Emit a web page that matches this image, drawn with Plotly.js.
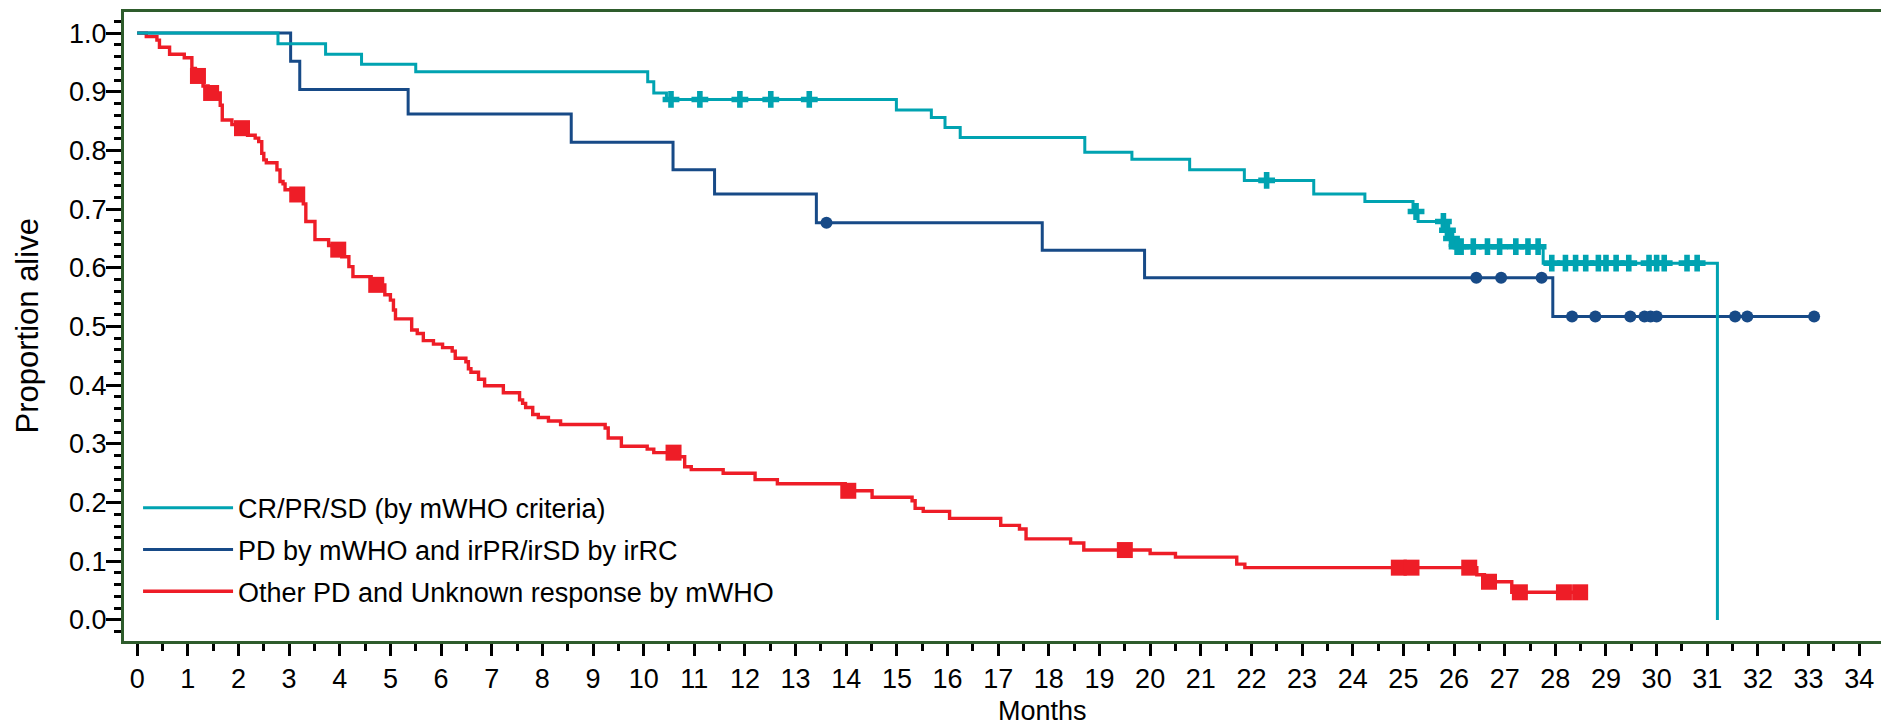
<!DOCTYPE html>
<html><head><meta charset="utf-8">
<script src="https://cdn.plot.ly/plotly-3.0.1.min.js"></script>
<style>html,body{margin:0;padding:0;background:#fff;}#chart{width:1881px;height:728px;}</style>
</head><body><div id="chart"></div>
<script>
// ---- Data (months, proportion alive) ----
const seriesNames = ["CR/PR/SD (by mWHO criteria)", "PD by mWHO and irPR/irSD by irRC", "Other PD and Unknown response by mWHO"];

const cyanStepTimes = [0, 2.78, 3.72, 4.43, 5.50, 10.08, 10.20, 10.45, 14.99, 15.68, 15.95, 16.25, 18.71, 19.64, 20.78, 21.86, 23.23, 24.24, 25.19, 25.29, 25.83, 25.91, 26.00, 27.76, 31.20];
const cyanStepSurv  = [1.0, 0.982, 0.964, 0.947, 0.934, 0.917, 0.898, 0.887, 0.869, 0.856, 0.839, 0.822, 0.797, 0.785, 0.767, 0.749, 0.726, 0.713, 0.696, 0.679, 0.664, 0.650, 0.636, 0.608, 0.0];
const cyanCensorTimes = [10.54, 11.11, 11.90, 12.51, 13.27, 22.30, 25.25, 25.79, 25.87, 25.95, 26.06, 26.14, 26.38, 26.66, 26.90, 27.22, 27.46, 27.66, 27.93, 28.20, 28.40, 28.60, 28.85, 29.00, 29.20, 29.45, 29.85, 30.00, 30.15, 30.60, 30.80];
const cyanCensorSurv  = [0.887, 0.887, 0.887, 0.887, 0.887, 0.749, 0.696, 0.679, 0.664, 0.650, 0.636, 0.636, 0.636, 0.636, 0.636, 0.636, 0.636, 0.636, 0.608, 0.608, 0.608, 0.608, 0.608, 0.608, 0.608, 0.608, 0.608, 0.608, 0.608, 0.608, 0.608];

const navyStepTimes = [0, 3.03, 3.21, 5.35, 8.57, 10.58, 11.40, 13.41, 17.87, 19.89, 27.95, 33.11];
const navyStepSurv  = [1.0, 0.952, 0.904, 0.862, 0.814, 0.767, 0.726, 0.677, 0.630, 0.583, 0.517, 0.517];
const navyCensorTimes = [13.61, 26.44, 26.93, 27.73, 28.33, 28.79, 29.48, 29.76, 29.88, 30.00, 31.55, 31.79, 33.11];
const navyCensorSurv  = [0.677, 0.583, 0.583, 0.583, 0.517, 0.517, 0.517, 0.517, 0.517, 0.517, 0.517, 0.517, 0.517];

const redStepTimes = [0, 0.18, 0.39, 0.44, 0.64, 0.93, 1.08, 1.15, 1.30, 1.40, 1.64, 1.68, 1.87, 1.98, 2.18, 2.33, 2.40, 2.46, 2.50, 2.55, 2.76, 2.82, 2.88, 2.92, 3.05, 3.28, 3.33, 3.51, 3.78, 3.90, 4.04, 4.18, 4.26, 4.62, 4.89, 5.00, 5.06, 5.10, 5.42, 5.53, 5.65, 5.85, 6.03, 6.22, 6.28, 6.49, 6.54, 6.59, 6.74, 6.86, 7.23, 7.55, 7.61, 7.67, 7.81, 7.92, 8.12, 8.36, 9.24, 9.30, 9.56, 10.07, 10.20, 10.65, 10.81, 10.94, 11.57, 12.20, 12.64, 13.98, 14.51, 15.30, 15.36, 15.52, 16.04, 17.05, 17.42, 17.55, 18.43, 18.69, 20.00, 20.50, 21.71, 21.87, 26.45, 26.60, 27.14, 28.49];
const redStepSurv  = [1.0, 0.994, 0.988, 0.976, 0.964, 0.958, 0.940, 0.927, 0.910, 0.898, 0.877, 0.852, 0.844, 0.838, 0.826, 0.821, 0.815, 0.795, 0.784, 0.779, 0.767, 0.747, 0.743, 0.733, 0.725, 0.709, 0.679, 0.648, 0.638, 0.631, 0.619, 0.602, 0.585, 0.571, 0.554, 0.545, 0.528, 0.513, 0.494, 0.488, 0.476, 0.470, 0.464, 0.458, 0.446, 0.440, 0.428, 0.422, 0.410, 0.399, 0.387, 0.375, 0.369, 0.362, 0.350, 0.345, 0.339, 0.333, 0.327, 0.310, 0.296, 0.291, 0.285, 0.278, 0.261, 0.256, 0.250, 0.239, 0.232, 0.220, 0.209, 0.203, 0.190, 0.185, 0.173, 0.161, 0.155, 0.138, 0.131, 0.119, 0.113, 0.107, 0.095, 0.089, 0.077, 0.065, 0.047, 0.047];
const redCensorTimes = [1.20, 1.46, 2.07, 3.16, 3.97, 4.72, 10.59, 14.04, 19.50, 24.91, 25.16, 26.30, 26.69, 27.30, 28.17, 28.49];
const redCensorSurv  = [0.927, 0.898, 0.838, 0.725, 0.631, 0.571, 0.285, 0.220, 0.119, 0.089, 0.089, 0.089, 0.065, 0.047, 0.047, 0.047];

const yTickVals = [0, 0.1, 0.2, 0.3, 0.4, 0.5, 0.6, 0.7, 0.8, 0.9, 1.0];
const yTickText = ["0.0", "0.1", "0.2", "0.3", "0.4", "0.5", "0.6", "0.7", "0.8", "0.9", "1.0"];
const xTickVals = [0,1,2,3,4,5,6,7,8,9,10,11,12,13,14,15,16,17,18,19,20,21,22,23,24,25,26,27,28,29,30,31,32,33,34];

// ---- Styles ----
const CYAN = "#00a3b1", NAVY = "#174a87", RED = "#ee1d27", FRAME = "#2e5c2c";
const FONT = "Liberation Sans, Arial, Helvetica, sans-serif";

const traces = [
  {x: redStepTimes, y: redStepSurv, mode: "lines", line: {shape: "hv", color: RED, width: 3.4}, name: seriesNames[2], legendgroup: "g3", legendrank: 3, hoverinfo: "skip"},
  {x: navyStepTimes, y: navyStepSurv, mode: "lines", line: {shape: "hv", color: NAVY, width: 3}, name: seriesNames[1], legendgroup: "g2", legendrank: 2, hoverinfo: "skip"},
  {x: cyanStepTimes, y: cyanStepSurv, mode: "lines", line: {shape: "hv", color: CYAN, width: 3}, name: seriesNames[0], legendgroup: "g1", legendrank: 1, hoverinfo: "skip"},
  {x: redCensorTimes, y: redCensorSurv, mode: "markers", marker: {symbol: "square", size: 16, color: RED}, showlegend: false, hoverinfo: "skip"},
  {x: navyCensorTimes, y: navyCensorSurv, mode: "markers", marker: {symbol: "circle", size: 12, color: NAVY}, showlegend: false, hoverinfo: "skip"},
  {x: cyanCensorTimes, y: cyanCensorSurv, mode: "markers", marker: {symbol: "cross", size: 14, color: CYAN}, showlegend: false, hoverinfo: "skip"}
];

const layout = {
  width: 1881, height: 728,
  margin: {l: 124, r: 0, t: 12, b: 87, pad: 0},
  paper_bgcolor: "#ffffff", plot_bgcolor: "#ffffff",
  font: {family: FONT, size: 27, color: "#000"},
  showlegend: true,
  legend: {x: 0.008, y: 0.25, xanchor: "left", yanchor: "top", bgcolor: "rgba(0,0,0,0)", borderwidth: 0,
           font: {family: FONT, size: 27, color: "#000"}, itemwidth: 90, traceorder: "grouped", tracegroupgap: 3.6},
  xaxis: {
    range: [-0.26, 34.43], tickmode: "array", tickvals: xTickVals, ticktext: xTickVals.map(String),
    ticks: "outside", ticklen: 12, tickwidth: 3, tickcolor: "#000",
    minor: {dtick: 0.5, tick0: 0, ticks: "outside", ticklen: 7, tickwidth: 3, tickcolor: "#000", showgrid: false},
    showline: true, linecolor: FRAME, linewidth: 3, mirror: true,
    showgrid: false, zeroline: false, tickfont: {family: FONT, size: 27, color: "#000"}
  },
  yaxis: {
    range: [-0.036, 1.036], tickmode: "array", tickvals: yTickVals, ticktext: yTickText,
    ticks: "outside", ticklen: 15, tickwidth: 3, tickcolor: "#000", ticklabelstandoff: -6,
    minor: {dtick: 0.02, tick0: 0, ticks: "outside", ticklen: 7, tickwidth: 3, tickcolor: "#000", showgrid: false},
    showline: true, linecolor: FRAME, linewidth: 3, mirror: false,
    showgrid: false, zeroline: false, tickfont: {family: FONT, size: 27, color: "#000"}
  },
  annotations: [
    {text: "Months", xref: "paper", yref: "paper", x: 0.5228, y: -0.1383, xanchor: "center", yanchor: "bottom",
     showarrow: false, font: {family: FONT, size: 27, color: "#000"}},
    {text: "Proportion alive", xref: "paper", yref: "paper", x: -0.0552, y: 0.5, xanchor: "center", yanchor: "middle",
     textangle: -90, showarrow: false, font: {family: FONT, size: 31, color: "#000"}}
  ]
};

Plotly.newPlot("chart", traces, layout, {staticPlot: true, displayModeBar: false});
</script>
</body></html>
